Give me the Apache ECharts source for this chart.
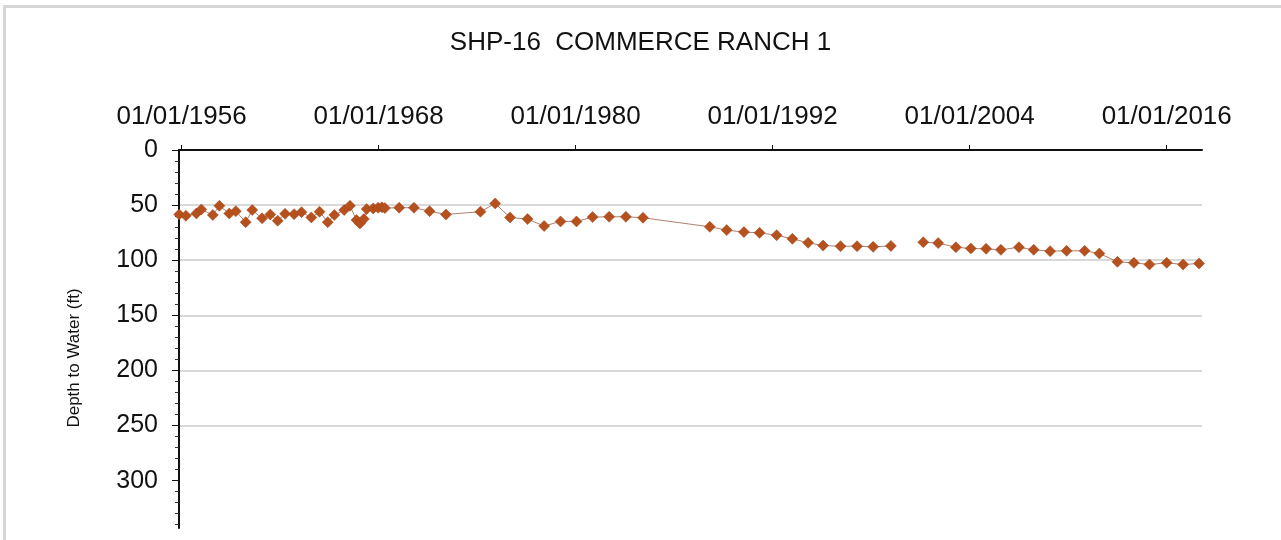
<!DOCTYPE html>
<html>
<head>
    <meta charset="utf-8">
    <script src="https://cdn.jsdelivr.net/npm/echarts@6/dist/echarts.min.js"></script>
    <style>
        html, body { margin: 0; padding: 0; background: #fff; }
        .frame { position: absolute; left: 3px; top: 5px; width: 1278px; height: 535px;
                 border-top: 3px solid #d6d6d6; border-left: 3px solid #d6d6d6; }
        #main { position: absolute; left: 0; top: 0; width: 1281px; height: 540px; }
    </style>
</head>
<body>
<div class="frame"></div>
<div id="main"></div>
<script type="text/javascript">
    // measurement dates (decimal years) and depth to water (ft)
    var dates = [
        1955.85, 1956.26, 1956.90, 1957.20, 1957.90, 1958.30, 1958.90, 1959.30, 1959.90, 1960.30,
        1960.90, 1961.40, 1961.85, 1962.30, 1962.85, 1963.30, 1963.90, 1964.40, 1964.90, 1965.30,
        1965.90, 1966.25, 1966.65, 1966.86, 1967.10, 1967.27, 1967.67, 1967.97, 1968.20, 1968.38,
        1969.25, 1970.15, 1971.10, 1972.10, 1974.20, 1975.10, 1976.00, 1977.07, 1978.08, 1979.08,
        1980.05, 1981.03, 1982.04, 1983.06, 1984.10, 1988.17, 1989.20, 1990.25, 1991.20, 1992.24,
        1993.20, 1994.16, 1995.07, 1996.13, 1997.14, 1998.12, 1999.20,
        2001.17, 2002.08, 2003.16, 2004.07, 2005.00, 2005.90, 2007.00, 2007.90, 2008.90, 2009.90,
        2011.00, 2011.90, 2013.00, 2014.00, 2014.95, 2016.00, 2017.00, 2017.97
    ];
    var depths = [
        58.5, 59.7, 57.6, 53.9, 59.0, 50.6, 57.6, 55.5, 65.5, 54.5,
        62.0, 58.5, 64.2, 57.9, 58.2, 56.4, 61.2, 56.0, 65.5, 59.0,
        54.5, 50.6, 63.6, 66.6, 62.7, 53.6, 53.0, 52.4, 52.0, 52.7,
        52.4, 52.4, 55.5, 58.5, 56.0, 48.5, 61.2, 62.7, 69.0, 64.8,
        64.8, 60.9, 60.6, 60.6, 61.5, 69.7, 72.7, 74.5, 75.2, 77.3,
        80.6, 84.2, 86.7, 87.3, 87.3, 87.9, 87.0,
        83.6, 84.5, 88.2, 89.4, 89.7, 90.6, 88.2, 90.6, 91.8, 91.5,
        91.5, 93.9, 101.5, 102.4, 103.9, 102.4, 103.9, 103.0
    ];
    // no reading between these two dates, line is broken there
    var gapAfter = 1999.20;

    var tickYears = [1956, 1968, 1980, 1992, 2004, 2016];
    var tickLabels = ['01/01/1956', '01/01/1968', '01/01/1980', '01/01/1992', '01/01/2004', '01/01/2016'];
    var depthTicks = [0, 50, 100, 150, 200, 250, 300];

    var minorTicks = [];
    for (var v = 10; v <= 340; v += 10) {
        if (v % 50 !== 0) minorTicks.push(v);
    }

    var seriesData = [];
    for (var i = 0; i < dates.length; i++) {
        seriesData.push([dates[i], depths[i]]);
        if (dates[i] === gapAfter) seriesData.push(['-', '-']);
    }

    var font = '"Liberation Sans", Arial, sans-serif';
    var myChart = echarts.init(document.getElementById('main'));
    var option = {
        animation: false,
        backgroundColor: 'transparent',
        title: {
            text: 'SHP-16  COMMERCE RANCH 1',
            left: 'center',
            top: 25,
            textStyle: { fontFamily: font, fontSize: 26, fontWeight: 'normal', color: '#111' }
        },
        grid: { left: 179, top: 150, right: 79, bottom: 12 },
        xAxis: {
            type: 'value',
            position: 'top',
            min: 1955.84,
            max: 2018.15,
            axisLine: { lineStyle: { color: '#111', width: 2 } },
            axisTick: { customValues: tickYears, length: 5, lineStyle: { color: '#111' } },
            axisLabel: {
                customValues: tickYears,
                margin: 20,
                fontFamily: font,
                fontSize: 26,
                color: '#111',
                formatter: function (val) {
                    return tickLabels[tickYears.indexOf(Math.round(val))];
                }
            },
            splitLine: { show: false }
        },
        yAxis: [
            {
                type: 'value',
                position: 'left',
                inverse: true,
                min: 0,
                max: 343,
                interval: 50,
                name: 'Depth to Water (ft)',
                nameLocation: 'middle',
                nameGap: 96,
                nameTextStyle: { fontFamily: font, fontSize: 17, color: '#111', padding: [0, 38, 0, 0] },
                axisLine: { show: true, lineStyle: { color: '#111', width: 2 } },
                axisTick: { customValues: depthTicks, length: 7, lineStyle: { color: '#111' } },
                axisLabel: {
                    customValues: depthTicks,
                    margin: 21,
                    fontFamily: font,
                    fontSize: 25,
                    color: '#111'
                },
                splitLine: { show: true, showMinLine: false, showMaxLine: false,
                             lineStyle: { color: '#d9d9d9', width: 2 } }
            },
            {
                type: 'value',
                position: 'left',
                offset: 0,
                inverse: true,
                min: 0,
                max: 343,
                axisLine: { show: false },
                axisTick: { show: true, customValues: minorTicks, length: 4, lineStyle: { color: '#333' } },
                axisLabel: { show: false },
                splitLine: { show: false }
            }
        ],
        series: [
            {
                name: 'Depth to Water',
                type: 'line',
                yAxisIndex: 0,
                data: seriesData,
                clip: false,
                connectNulls: false,
                symbol: 'diamond',
                symbolSize: 11,
                itemStyle: { color: '#b6501d', borderColor: '#9c4318', borderWidth: 0.5 },
                lineStyle: { color: '#b07e6c', width: 1 }
            }
        ]
    };
    myChart.setOption(option);
</script>
</body>
</html>
